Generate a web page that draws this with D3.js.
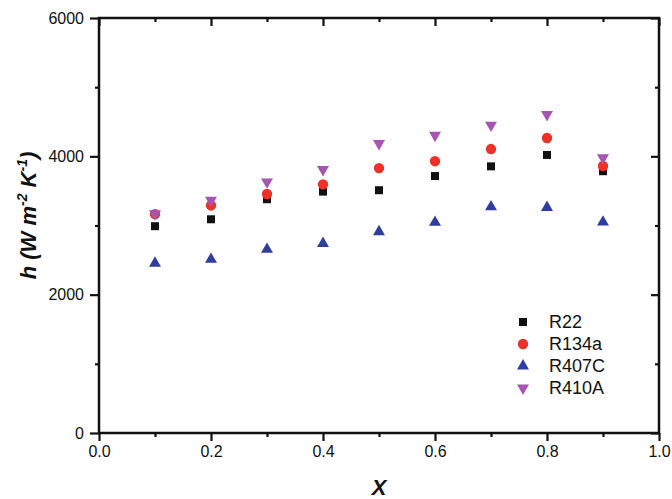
<!DOCTYPE html>
<html>
<head>
<meta charset="utf-8">
<script src="https://cdn.jsdelivr.net/npm/d3@7"></script>
<style>
  body { margin: 0; background: #fff; }
  text { font-family: "Liberation Sans", Arial, sans-serif; }
</style>
</head>
<body>
<svg id="chart"></svg>
<script>
// quality values
const xValues = [0.1, 0.2, 0.3, 0.4, 0.5, 0.6, 0.7, 0.8, 0.9];

// heat transfer coefficient, W m-2 K-1
const r22 = [2990, 3090, 3380, 3490, 3510, 3715, 3855, 4020, 3785];
const r134a = [3165, 3290, 3455, 3595, 3830, 3930, 4105, 4265, 3860];
const r407c = [2455, 2510, 2655, 2740, 2910, 3045, 3270, 3260, 3050];
const r410a = [3170, 3365, 3630, 3810, 4185, 4305, 4450, 4605, 3980];

const seriesNames = ["R22", "R134a", "R407C", "R410A"];
const xTicks = [0, 0.2, 0.4, 0.6, 0.8, 1.0];
const yTicks = [0, 2000, 4000, 6000];

const width = 672, height = 499;
const margin = { top: 18, right: 13, bottom: 66, left: 99 };

const series = [
  { name: seriesNames[0], values: r22, symbol: d3.symbolSquare, size: 64, color: "#111111", rot: 0 },
  { name: seriesNames[1], values: r134a, symbol: d3.symbolCircle, size: 85, color: "#ed3126", rot: 0 },
  { name: seriesNames[2], values: r407c, symbol: d3.symbolTriangle, size: 62, color: "#2f3e9c", rot: 0 },
  { name: seriesNames[3], values: r410a, symbol: d3.symbolTriangle, size: 62, color: "#a456b2", rot: 180 }
];

const svg = d3.select("#chart")
  .attr("width", width)
  .attr("height", height);

const x = d3.scaleLinear()
  .domain([0, 1])
  .range([margin.left, width - margin.right]);

const y = d3.scaleLinear()
  .domain([0, 6000])
  .range([height - margin.bottom, margin.top]);

const axisColor = "#111";
const xMinor = [0.1, 0.3, 0.5, 0.7, 0.9];
const yMinor = [1000, 3000, 5000];

function clean(g) {
  g.select(".domain").remove();
  g.selectAll(".tick line").attr("stroke", axisColor).attr("stroke-width", 2.2);
}

// bottom axis
svg.append("g")
  .attr("transform", `translate(0,${y(0)})`)
  .call(d3.axisBottom(x).tickValues(xTicks).tickFormat(d3.format(".1f")).tickSize(8).tickSizeOuter(0).tickPadding(5))
  .call(clean)
  .call(g => g.selectAll("text").attr("font-size", 16).attr("fill", axisColor).attr("font-family", "Liberation Sans, Arial"));
svg.append("g")
  .attr("transform", `translate(0,${y(0)})`)
  .call(d3.axisBottom(x).tickValues(xMinor).tickFormat("").tickSize(4).tickSizeOuter(0))
  .call(clean);

// top axis, ticks pointing in
svg.append("g")
  .attr("transform", `translate(0,${y(6000)})`)
  .call(d3.axisBottom(x).tickValues(xTicks).tickFormat("").tickSize(8).tickSizeOuter(0))
  .call(clean);
svg.append("g")
  .attr("transform", `translate(0,${y(6000)})`)
  .call(d3.axisBottom(x).tickValues(xMinor).tickFormat("").tickSize(4).tickSizeOuter(0))
  .call(clean);

// left axis
svg.append("g")
  .attr("transform", `translate(${x(0)},0)`)
  .call(d3.axisLeft(y).tickValues(yTicks).tickFormat(d3.format("d")).tickSize(9).tickSizeOuter(0).tickPadding(6))
  .call(clean)
  .call(g => g.selectAll("text").attr("font-size", 16).attr("fill", axisColor).attr("font-family", "Liberation Sans, Arial"));
svg.append("g")
  .attr("transform", `translate(${x(0)},0)`)
  .call(d3.axisLeft(y).tickValues(yMinor).tickFormat("").tickSize(4).tickSizeOuter(0))
  .call(clean);

// right axis, ticks pointing in
svg.append("g")
  .attr("transform", `translate(${x(1)},0)`)
  .call(d3.axisLeft(y).tickValues(yTicks).tickFormat("").tickSize(8).tickSizeOuter(0))
  .call(clean);
svg.append("g")
  .attr("transform", `translate(${x(1)},0)`)
  .call(d3.axisLeft(y).tickValues(yMinor).tickFormat("").tickSize(4).tickSizeOuter(0))
  .call(clean);

// frame
svg.append("rect")
  .attr("x", x(0))
  .attr("y", y(6000))
  .attr("width", x(1) - x(0))
  .attr("height", y(0) - y(6000))
  .attr("fill", "none")
  .attr("stroke", axisColor)
  .attr("stroke-width", 2.5);

// points
series.forEach(s => {
  svg.append("g")
    .selectAll("path")
    .data(s.values.map((v, i) => [xValues[i], v]))
    .join("path")
    .attr("d", d3.symbol().type(s.symbol).size(s.size))
    .attr("transform", d => `translate(${x(d[0])},${y(d[1])}) rotate(${s.rot})`)
    .attr("fill", s.color);
});

// legend
const legend = svg.append("g").attr("transform", "translate(523,322)");
const items = legend.selectAll("g")
  .data(series)
  .join("g")
  .attr("transform", (d, i) => `translate(0,${i * 22})`);
items.append("path")
  .attr("d", d => d3.symbol().type(d.symbol).size(d.size)())
  .attr("transform", d => `rotate(${d.rot})`)
  .attr("fill", d => d.color);
items.append("text")
  .attr("x", 26)
  .attr("dy", "0.36em")
  .attr("font-size", 18)
  .attr("fill", axisColor)
  .text(d => d.name);

// axis titles
svg.append("text")
  .attr("x", x(0.5))
  .attr("y", 495)
  .attr("text-anchor", "middle")
  .attr("font-size", 22)
  .attr("font-weight", "bold")
  .attr("font-style", "italic")
  .attr("fill", axisColor)
  .text("X");

const yTitle = svg.append("text")
  .attr("transform", `translate(36,${(y(0) + y(6000)) / 2 - 10}) rotate(-90)`)
  .attr("text-anchor", "middle")
  .attr("font-size", 22)
  .attr("font-weight", "bold")
  .attr("font-style", "italic")
  .attr("fill", axisColor);
yTitle.append("tspan").text("h (W m");
yTitle.append("tspan").attr("dy", -9).attr("font-size", 14).text("-2");
yTitle.append("tspan").attr("dy", 9).text(" K");
yTitle.append("tspan").attr("dy", -9).attr("font-size", 14).text("-1");
yTitle.append("tspan").attr("dy", 9).text(")");
</script>
</body>
</html>
